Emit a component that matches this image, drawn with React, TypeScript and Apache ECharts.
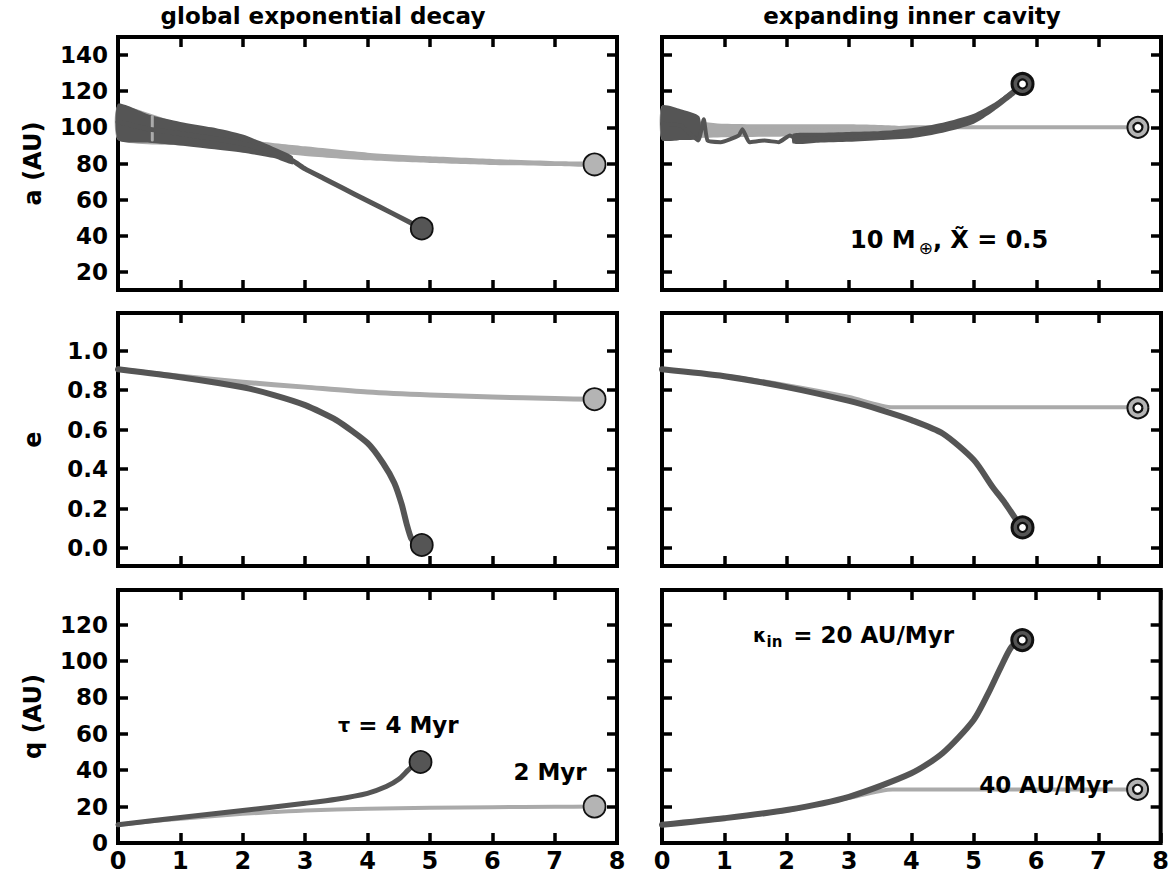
import React, { useEffect, useRef } from "react";
import * as echarts from "echarts";

// ---------- tick values ----------
const xTicks = [0, 1, 2, 3, 4, 5, 6, 7, 8];
const aTicks = [20, 40, 60, 80, 100, 120, 140];
const eTicks = [0, 0.2, 0.4, 0.6, 0.8, 1.0];
const qTicks = [0, 20, 40, 60, 80, 100, 120];

// ---------- global exponential decay : a ----------
const aL_darkBandT = [0, 0.5, 1.0, 1.5, 2.0, 2.5, 2.8];
const aL_darkBandHi = [113, 107, 103, 100, 96, 89, 84];
const aL_darkBandLo = [93, 91.5, 90, 88, 86, 83, 79.5];
const aL_darkT = [0, 0.5, 1, 1.5, 2, 2.5, 2.8, 3.0, 3.3, 3.6, 4.0, 4.4, 4.87];
const aL_darkV = [103, 99, 96.5, 94, 91, 86, 81.5, 77, 71.7, 66.4, 59.4, 52.4, 44];
const aL_lightBandT = [0, 1, 2, 3, 4, 5, 6, 7, 7.64];
const aL_lightBandHi = [112, 102, 93.5, 89.5, 86, 84, 82.5, 81.3, 80.8];
const aL_lightBandLo = [93, 90, 88, 84.2, 81.8, 80.3, 79.2, 78.6, 78.3];
const aL_lightSpikeT = [0.55, 0.55];
const aL_lightSpikeV = [93, 106];
const aL_darkEnd = [4.87, 44];
const aL_lightEnd = [7.64, 79.5];

// ---------- expanding inner cavity : a ----------
const aR_lightBandT = [0, 0.5, 1, 2, 3, 3.8];
const aR_lightBandHi = [112, 104, 102, 101.7, 101.7, 100.8];
const aR_lightBandLo = [93, 94, 94.5, 95, 96, 99.2];
const aR_lightT = [0, 0.5, 1, 2, 3, 3.7, 4.0, 7.63];
const aR_lightV = [101, 99, 98.5, 98, 98.5, 99.5, 100, 100];
const aR_darkBandT = [0, 0.3, 0.6];
const aR_darkBandHi = [112, 110, 106];
const aR_darkBandLo = [93, 93, 94];
const aR_darkBand2T = [2.1, 2.5, 3, 3.5, 4, 4.5, 5, 5.3, 5.55, 5.75];
const aR_darkBand2Hi = [96.5, 97, 97.5, 98, 99.5, 102.5, 107.5, 113, 119, 124.5];
const aR_darkBand2Lo = [91, 91.5, 92, 93, 94, 97, 102, 108.5, 115, 121];
const aR_darkT = [0, 0.3, 0.58, 0.67, 0.73, 0.94, 1.23, 1.29, 1.4, 1.64, 1.87, 2.05, 2.16, 2.5, 3, 3.5, 4, 4.5, 5, 5.3, 5.5, 5.78];
const aR_darkV = [102, 101, 92.7, 104.5, 92.7, 91.8, 95.5, 99, 91.8, 92.7, 91.8, 95.5, 93.6, 94, 94.8, 95.5, 96.5, 100, 104.8, 111, 116.5, 124];
const aR_darkEnd = [5.78, 124];
const aR_lightEnd = [7.63, 100];

// ---------- e ----------
const eL_darkT = [0, 1, 2, 2.5, 3, 3.5, 4, 4.25, 4.43, 4.55, 4.63, 4.7, 4.78, 4.87];
const eL_darkV = [0.905, 0.865, 0.814, 0.775, 0.724, 0.648, 0.532, 0.43, 0.33, 0.22, 0.12, 0.05, 0.025, 0.016];
const eL_lightT = [0, 1, 2, 3, 4, 5, 6, 7, 7.64];
const eL_lightV = [0.905, 0.87, 0.84, 0.815, 0.79, 0.775, 0.765, 0.757, 0.754];
const eL_darkEnd = [4.87, 0.016];
const eL_lightEnd = [7.64, 0.754];

const eR_darkT = [0, 1, 2, 3, 3.5, 4, 4.5, 5, 5.3, 5.5, 5.7, 5.78];
const eR_darkV = [0.905, 0.87, 0.815, 0.745, 0.7, 0.648, 0.58, 0.446, 0.31, 0.228, 0.135, 0.105];
const eR_lightT = [0, 1, 2, 3, 3.7, 7.63];
const eR_lightV = [0.905, 0.872, 0.825, 0.765, 0.713, 0.713];
const eR_darkEnd = [5.78, 0.105];
const eR_lightEnd = [7.63, 0.71];

// ---------- q ----------
const qL_darkT = [0, 1, 2, 3, 3.5, 4, 4.3, 4.5, 4.65, 4.75, 4.85];
const qL_darkV = [10, 14, 17.8, 21.8, 24, 27.3, 31, 35, 40, 43, 44.5];
const qL_lightT = [0, 0.5, 1, 1.5, 2, 2.5, 3, 4, 5, 6, 7, 7.64];
const qL_lightV = [10, 11.8, 13.3, 14.7, 16, 17, 17.9, 18.8, 19.3, 19.7, 19.9, 20];
const qL_darkEnd = [4.85, 44.5];
const qL_lightEnd = [7.64, 20];

const qR_darkT = [0, 1, 2, 3, 4, 4.5, 5, 5.26, 5.44, 5.61, 5.78];
const qR_darkV = [10, 13.6, 18.1, 25.4, 38.3, 49.3, 67.6, 84, 96.9, 107.9, 111.5];
const qR_lightT = [0, 1, 2, 3, 3.7, 7.63];
const qR_lightV = [10, 13.5, 17.8, 24.8, 29.4, 29.4];
const qR_darkEnd = [5.78, 111.5];
const qR_lightEnd = [7.63, 29.5];

const DARK = "#555555";
const LIGHT = "#aaaaaa";
const FONT = "DejaVu Sans";

const W = 1172;
const H = 881;

const zip = (t: number[], v: number[]) => t.map((x, i) => [x, v[i]]);

function band(g: number, t: number[], hi: number[], lo: number[], color: string, z = 2) {
  return {
    type: "custom",
    coordinateSystem: "cartesian2d",
    xAxisIndex: 2 * g,
    yAxisIndex: 2 * g,
    silent: true,
    z,
    data: t.map((x, i) => [x, hi[i], lo[i]]),
    encode: { x: 0, y: 1 },
    renderItem: (params: any, api: any) => {
      if (params.dataIndex !== 0) return null;
      const top = t.map((x, i) => api.coord([x, hi[i]]));
      const bot = t.map((x, i) => api.coord([x, lo[i]])).reverse();
      return { type: "polygon", shape: { points: top.concat(bot), smooth: 0.2 }, style: { fill: color } };
    },
  };
}

const GRID_LEFT = [118, 662];
const GRID_TOP = [37, 313, 590];
const GRID_W = 499;
const GRID_H = 253;
const TICK_LEN = 10;

function line(g: number, t: number[], v: number[], color: string, width = 5, z = 3, smooth: number | boolean = 0.25) {
  return {
    type: "line",
    xAxisIndex: 2 * g,
    yAxisIndex: 2 * g,
    data: zip(t, v),
    showSymbol: false,
    symbol: "none",
    smooth,
    silent: true,
    z,
    lineStyle: { color, width, cap: "round", join: "round" },
  };
}

function dot(g: number, p: number[], color: string) {
  return {
    type: "scatter",
    xAxisIndex: 2 * g,
    yAxisIndex: 2 * g,
    data: [p],
    symbol: "circle",
    symbolSize: 22,
    silent: true,
    z: 6,
    itemStyle: { color, borderColor: "#111", borderWidth: 1.8, opacity: 1 },
  };
}

function target(g: number, p: number[], color: string, ring: number) {
  return [
    {
      type: "scatter",
      xAxisIndex: 2 * g,
      yAxisIndex: 2 * g,
      data: [p],
      symbol: "circle",
      symbolSize: 21,
      silent: true,
      z: 6,
      itemStyle: { color, borderColor: "#111", borderWidth: ring, opacity: 1 },
    },
    {
      type: "scatter",
      xAxisIndex: 2 * g,
      yAxisIndex: 2 * g,
      data: [p],
      symbol: "circle",
      symbolSize: 9,
      silent: true,
      z: 7,
      itemStyle: { color: "#ffffff", borderColor: "#111", borderWidth: 2.2, opacity: 1 },
    },
  ];
}

type YSpec = { min: number; max: number; ticks: number[]; fmt: (v: number) => string };
const ySpecs: YSpec[] = [
  { min: 10, max: 150, ticks: aTicks, fmt: (v) => String(Math.round(v)) },
  { min: -0.09, max: 1.19, ticks: eTicks, fmt: (v) => Math.abs(v).toFixed(1) },
  { min: 0, max: 139, ticks: qTicks, fmt: (v) => String(Math.round(v)) },
];

export default function App() {
  const ref = useRef<HTMLDivElement>(null);
  useEffect(() => {
    document.body.style.margin = "0";
    if (!ref.current) return;
    const chart = echarts.init(ref.current, null, { renderer: "svg" });

    const grids: any[] = [];
    const xAxes: any[] = [];
    const yAxes: any[] = [];
    const labelStyle = { fontFamily: FONT, fontWeight: "bold", fontSize: 23, color: "#000" };
    const tickStyle = { show: true, inside: true, length: TICK_LEN, lineStyle: { color: "#000", width: 3.5 } };
    const series: any[] = [];

    for (let row = 0; row < 3; row++) {
      for (let col = 0; col < 2; col++) {
        const g = row * 2 + col;
        grids.push({
          left: GRID_LEFT[col],
          top: GRID_TOP[row],
          width: GRID_W,
          height: GRID_H,
          show: true,
          borderColor: "#000",
          borderWidth: 4,
          backgroundColor: "transparent",
          containLabel: false,
        });
        const xBase = {
          type: "value",
          gridIndex: g,
          min: 0,
          max: 8,
          interval: 1,
          axisLine: { show: false, onZero: false },
          splitLine: { show: false },
          axisTick: tickStyle,
        };
        xAxes.push({
          ...xBase,
          position: "bottom",
          axisLabel: { show: row === 2, margin: 6, ...labelStyle, fontSize: 24 },
        });
        xAxes.push({ ...xBase, position: "top", axisLabel: { show: false } });
        const ys = ySpecs[row];
        const yBase = {
          type: "value",
          gridIndex: g,
          min: ys.min,
          max: ys.max,
          axisLine: { show: false, onZero: false },
          splitLine: { show: false },
          axisTick: { ...tickStyle, customValues: ys.ticks },
        };
        yAxes.push({
          ...yBase,
          position: "left",
          axisLabel: { show: col === 0, customValues: ys.ticks, formatter: ys.fmt, margin: 10, ...labelStyle },
        });
        yAxes.push({ ...yBase, position: "right", axisLabel: { show: false, customValues: ys.ticks } });
      }
    }

    series.push(
      // a, left
      band(0, aL_lightBandT, aL_lightBandHi, aL_lightBandLo, LIGHT, 1),
      band(0, aL_darkBandT, aL_darkBandHi, aL_darkBandLo, DARK, 2),
      line(0, aL_lightSpikeT, aL_lightSpikeV, LIGHT, 3, 3, false),
      line(0, aL_darkT, aL_darkV, DARK, 5, 3, 0.15),
      dot(0, aL_darkEnd, DARK),
      dot(0, aL_lightEnd, "#b4b4b4"),
      // a, right
      band(1, aR_lightBandT, aR_lightBandHi, aR_lightBandLo, LIGHT, 1),
      line(1, aR_lightT, aR_lightV, LIGHT, 4, 1),
      band(1, aR_darkBandT, aR_darkBandHi, aR_darkBandLo, DARK, 2),
      band(1, aR_darkBand2T, aR_darkBand2Hi, aR_darkBand2Lo, DARK, 2),
      line(1, aR_darkT, aR_darkV, DARK, 4, 3, 0.15),
      ...target(1, aR_darkEnd, DARK, 3),
      ...target(1, aR_lightEnd, "#b4b4b4", 2),
      // e, left
      line(2, eL_lightT, eL_lightV, LIGHT, 5, 2),
      line(2, eL_darkT, eL_darkV, DARK, 6, 3, 0.2),
      dot(2, eL_darkEnd, DARK),
      dot(2, eL_lightEnd, "#b4b4b4"),
      // e, right
      line(3, eR_lightT, eR_lightV, LIGHT, 4, 2),
      line(3, eR_darkT, eR_darkV, DARK, 6, 3),
      ...target(3, eR_darkEnd, DARK, 3),
      ...target(3, eR_lightEnd, "#b4b4b4", 2),
      // q, left
      line(4, qL_lightT, qL_lightV, LIGHT, 4, 2),
      line(4, qL_darkT, qL_darkV, DARK, 5, 3),
      dot(4, qL_darkEnd, DARK),
      dot(4, qL_lightEnd, "#b4b4b4"),
      // q, right
      line(5, qR_lightT, qR_lightV, LIGHT, 4, 2),
      line(5, qR_darkT, qR_darkV, DARK, 6, 3),
      ...target(5, qR_darkEnd, DARK, 3),
      ...target(5, qR_lightEnd, "#b4b4b4", 2),
    );

    const txt = (x: number, y: number, text: string, size: number, extra: any = {}) => ({
      type: "text",
      x,
      y,
      z: 100,
      style: {
        text,
        fontFamily: FONT,
        fontWeight: "bold",
        fontSize: size,
        fill: "#000",
        textAlign: "center",
        textVerticalAlign: "middle",
        ...extra,
      },
    });

    const graphic: any[] = [
      txt(323, 16, "global exponential decay", 23),
      txt(912, 16, "expanding inner cavity", 23),
      { ...txt(33, GRID_TOP[0] + GRID_H / 2, "a (AU)", 24), rotation: Math.PI / 2 },
      { ...txt(33, GRID_TOP[1] + GRID_H / 2, "e", 24), rotation: Math.PI / 2 },
      { ...txt(33, GRID_TOP[2] + GRID_H / 2, "q (AU)", 24), rotation: Math.PI / 2 },
      {
        type: "text",
        x: 850,
        y: 240,
        z: 100,
        style: {
          text: "{m|10 M}{s|⊕}{m|, X\u0303 = 0.5}",
          textAlign: "left",
          textVerticalAlign: "middle",
          rich: {
            m: { fontFamily: FONT, fontWeight: "bold", fontSize: 24, lineHeight: 32, fill: "#000" },
            s: { fontFamily: FONT, fontWeight: "normal", fontSize: 17, lineHeight: 32, padding: [16, 0, 0, 3], fill: "#000" },
          },
        },
      },
      {
        type: "text",
        x: 338,
        y: 725,
        z: 100,
        style: {
          text: "{t|τ}{m| = 4 Myr}",
          textAlign: "left",
          textVerticalAlign: "middle",
          rich: {
            m: { fontFamily: FONT, fontWeight: "bold", fontSize: 23, lineHeight: 30, fill: "#000" },
            t: { fontFamily: FONT, fontWeight: "bold", fontSize: 19, lineHeight: 30, fill: "#000" },
          },
        },
      },
      txt(550, 772, "2 Myr", 23),
      {
        type: "text",
        x: 753,
        y: 635,
        z: 100,
        style: {
          text: "{k|κ}{s|in}{m| = 20 AU/Myr}",
          textAlign: "left",
          textVerticalAlign: "middle",
          rich: {
            m: { fontFamily: FONT, fontWeight: "bold", fontSize: 23, lineHeight: 30, fill: "#000" },
            k: { fontFamily: FONT, fontWeight: "bold", fontSize: 19, lineHeight: 30, fill: "#000" },
            s: { fontFamily: FONT, fontWeight: "bold", fontSize: 15, lineHeight: 30, padding: [13, 3, 0, 0], fill: "#000" },
          },
        },
      },
      txt(1046, 785, "40 AU/Myr", 23),
    ];

    chart.setOption({
      animation: false,
      backgroundColor: "#ffffff",
      grid: grids,
      xAxis: xAxes,
      yAxis: yAxes,
      series,
      graphic,
    });

    return () => chart.dispose();
  }, []);
  return <div ref={ref} style={{ width: W, height: H }} />;
}
